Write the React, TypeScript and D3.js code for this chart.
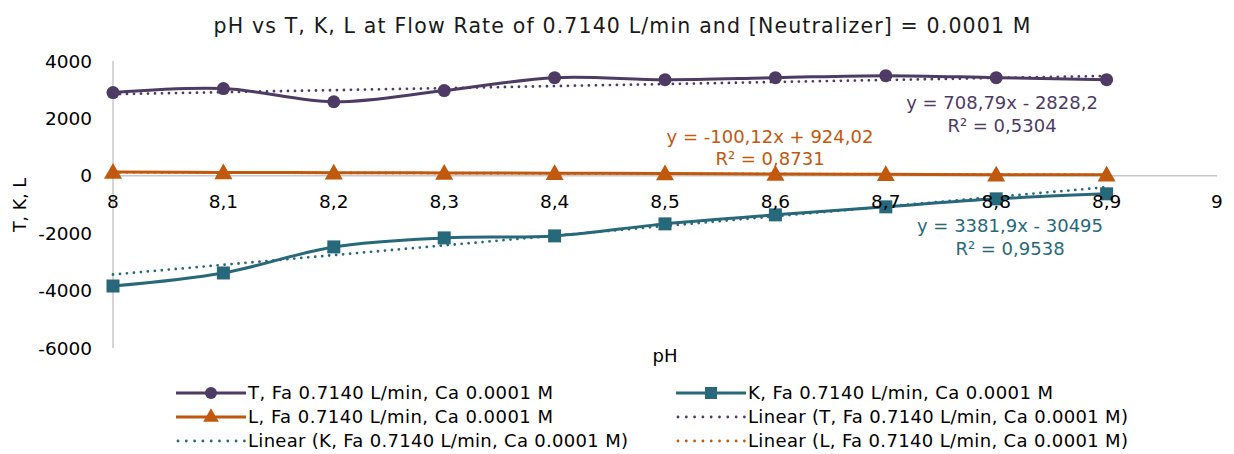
import React from "react";
import * as d3 from "d3";

const phValues = [8, 8.1, 8.2, 8.3, 8.4, 8.5, 8.6, 8.7, 8.8, 8.9];
const tValues = [2900, 3040, 2580, 2970, 3420, 3350, 3420, 3490, 3420, 3350];
const kValues = [-3840, -3386, -2478, -2164, -2094, -1675, -1361, -1082, -803, -628];
const lValues = [130, 115, 110, 100, 90, 80, 60, 50, 40, 35];
const xTicks = [8, 8.1, 8.2, 8.3, 8.4, 8.5, 8.6, 8.7, 8.8, 8.9, 9];
const yTicks = [4000, 2000, 0, -2000, -4000, -6000];
const trendT = { slope: 708.79, intercept: -2828.2, eq: "y = 708,79x - 2828,2", r2: "R² = 0,5304" };
const trendK = { slope: 3381.9, intercept: -30495, eq: "y = 3381,9x - 30495", r2: "R² = 0,9538" };
const trendL = { slope: -100.12, intercept: 924.02, eq: "y = -100,12x + 924,02", r2: "R² = 0,8731" };

const W = 1234, H = 454;
const FONT = "'DejaVu Sans', sans-serif";
const C_T = "#4e3b63", C_K = "#27697a", C_L = "#c0580e";

export default function App() {
  const x = d3.scaleLinear().domain([8, 9]).range([113, 1217]);
  const y = d3.scaleLinear().domain([-6000, 4000]).range([348, 61]);
  const line = d3.line<number>().x((_, i) => x(phValues[i])).y(d => y(d)).curve(d3.curveCatmullRom.alpha(0.5));
  const fmt = (v: number) => String(v).replace(".", ",");
  const trendPath = (t: { slope: number; intercept: number }) => {
    const x0 = phValues[0], x1 = phValues[phValues.length - 1];
    return `M${x(x0)},${y(t.slope * x0 + t.intercept)}L${x(x1)},${y(t.slope * x1 + t.intercept)}`;
  };
  const tri = (cx: number, cy: number, s: number) => `M${cx},${cy - s * 0.6}L${cx + s * 0.6},${cy + s * 0.45}L${cx - s * 0.6},${cy + s * 0.45}Z`;
  const series = [
    { vals: tValues, color: C_T, marker: "circle" },
    { vals: kValues, color: C_K, marker: "square" },
    { vals: lValues, color: C_L, marker: "triangle" },
  ];
  const drawMarker = (m: string, cx: number, cy: number, color: string, key: any) => {
    if (m === "circle") return <circle key={key} cx={cx} cy={cy} r={6.5} fill={color} />;
    if (m === "square") return <rect key={key} x={cx - 6.5} y={cy - 6.5} width={13} height={13} fill={color} />;
    return <path key={key} d={tri(cx, cy, 15)} fill={color} />;
  };
  const legend = [
    { label: "T, Fa 0.7140 L/min, Ca 0.0001 M", color: C_T, marker: "circle", dotted: false, col: 0, row: 0, len: 305 },
    { label: "K, Fa 0.7140 L/min, Ca 0.0001 M", color: C_K, marker: "square", dotted: false, col: 1, row: 0, len: 305 },
    { label: "L, Fa 0.7140 L/min, Ca 0.0001 M", color: C_L, marker: "triangle", dotted: false, col: 0, row: 1, len: 305 },
    { label: "Linear (T, Fa 0.7140 L/min, Ca 0.0001 M)", color: C_T, marker: "", dotted: true, col: 1, row: 1, len: 380 },
    { label: "Linear (K, Fa 0.7140 L/min, Ca 0.0001 M)", color: C_K, marker: "", dotted: true, col: 0, row: 2, len: 380 },
    { label: "Linear (L, Fa 0.7140 L/min, Ca 0.0001 M)", color: C_L, marker: "", dotted: true, col: 1, row: 2, len: 380 },
  ];
  const trendLabels = [
    { t: trendT, color: C_T, cx: 1002, y1: 109, y2: 132 },
    { t: trendL, color: C_L, cx: 770, y1: 143, y2: 165 },
    { t: trendK, color: C_K, cx: 1010, y1: 232, y2: 255 },
  ];
  return (
    <svg width={W} height={H} style={{ position: "absolute", left: 0, top: 0, background: "#fff" }} fontFamily={FONT}>
      <rect width={W} height={H} fill="#fff" />
      <text x={622} y={33} textAnchor="middle" fontSize={20.5} fill="#1a1a1a" textLength={817} lengthAdjust="spacing">pH vs T, K, L at Flow Rate of 0.7140 L/min and [Neutralizer] = 0.0001 M</text>
      <line x1={x(8)} x2={x(8)} y1={y(4000)} y2={y(-6000)} stroke="#c8c8c8" strokeWidth={1.5} />
      <line x1={x(8)} x2={x(9)} y1={y(0)} y2={y(0)} stroke="#c8c8c8" strokeWidth={1.5} />
      {series.map((s, si) => (
        <g key={si}>
          <path d={line(s.vals) || ""} fill="none" stroke={s.color} strokeWidth={3} />
        </g>
      ))}
      {[{ t: trendT, c: C_T }, { t: trendK, c: C_K }, { t: trendL, c: C_L }].map((d, i) => (
        <path key={i} d={trendPath(d.t)} stroke={d.c} strokeWidth={2.8} strokeDasharray="0 7" strokeLinecap="round" fill="none" />
      ))}
      {series.map((s, si) => (
        <g key={"m" + si}>{s.vals.map((v, i) => drawMarker(s.marker, x(phValues[i]), y(v), s.color, i))}</g>
      ))}
      {yTicks.map(v => (
        <text key={v} x={92} y={y(v) + 6.5} textAnchor="end" fontSize={18.5} fill="#000">{v}</text>
      ))}
      {xTicks.map(v => (
        <text key={v} x={x(v)} y={208} textAnchor="middle" fontSize={18.5} fill="#000">{fmt(v)}</text>
      ))}
      <text transform={`translate(26,205) rotate(-90)`} textAnchor="middle" fontSize={17.5} fill="#000">T, K, L</text>
      <text x={665} y={362} textAnchor="middle" fontSize={18} fill="#000">pH</text>
      {trendLabels.map((l, i) => (
        <g key={i} fill={l.color} fontSize={18} textAnchor="middle">
          <text x={l.cx} y={l.y1}>{l.t.eq}</text>
          <text x={l.cx} y={l.y2}>{l.t.r2}</text>
        </g>
      ))}
      {legend.map((l, i) => {
        const lx = l.col === 0 ? 176 : 676;
        const ly = 393 + l.row * 24;
        return (
          <g key={i}>
            {l.dotted ? (
              <line x1={lx + 2} x2={lx + 70} y1={ly} y2={ly} stroke={l.color} strokeWidth={2.8} strokeDasharray="0 8.3" strokeLinecap="round" />
            ) : (
              <line x1={lx} x2={lx + 70} y1={ly} y2={ly} stroke={l.color} strokeWidth={3} />
            )}
            {l.marker === "circle" && <circle cx={lx + 35} cy={ly} r={6} fill={l.color} />}
            {l.marker === "square" && <rect x={lx + 29} y={ly - 6} width={12} height={12} fill={l.color} />}
            {l.marker === "triangle" && <path d={tri(lx + 35, ly - 1, 13)} fill={l.color} />}
            <text x={lx + 72} y={ly + 6} fontSize={18} fill="#000" textLength={l.len} lengthAdjust="spacing">{l.label}</text>
          </g>
        );
      })}
    </svg>
  );
}
